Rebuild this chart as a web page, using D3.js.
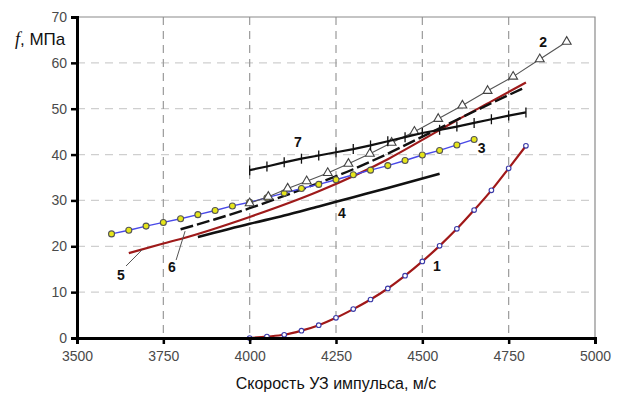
<!DOCTYPE html>
<html>
<head>
<meta charset="utf-8">
<script src="https://cdn.jsdelivr.net/npm/d3@7"></script>
<style>
  body { margin: 0; background: #fff; }
  svg { display: block; font-family: Arial, "Liberation Sans", sans-serif; }
</style>
</head>
<body>
<svg id="chart" width="621" height="400"></svg>
<script>
// Axis ticks
const xTicks = [3500, 3750, 4000, 4250, 4500, 4750, 5000];
const yTicks = [0, 10, 20, 30, 40, 50, 60, 70];

// Curve 1: red curve with small blue circles
const s1x = [4000, 4050, 4100, 4150, 4200, 4250, 4300, 4350, 4400, 4450, 4500, 4550, 4600, 4650, 4700, 4750, 4800];
const s1y = [0, 0.3, 0.7, 1.6, 2.8, 4.4, 6.3, 8.4, 10.8, 13.6, 16.7, 20.1, 23.8, 27.9, 32.2, 37.0, 41.9];

// Curve 2: thin grey line with open triangles
const s2x = [4000, 4054, 4110, 4165, 4226, 4286, 4348, 4411, 4477, 4546, 4616, 4689, 4763, 4840, 4918];
const s2y = [29.4, 30.8, 32.6, 34.2, 36.0, 38.0, 40.2, 42.6, 45.0, 47.8, 50.7, 53.9, 57.0, 60.8, 64.6];

// Curve 3: blue line with yellow circles
const s3x = [3600, 3650, 3700, 3750, 3800, 3850, 3900, 3950, 4000, 4050, 4100, 4150, 4200, 4250, 4300, 4350, 4400, 4450, 4500, 4550, 4600, 4650];
const s3y = [22.7, 23.5, 24.4, 25.2, 26.0, 26.9, 27.8, 28.8, 29.6, 30.6, 31.6, 32.6, 33.5, 34.5, 35.6, 36.6, 37.6, 38.7, 39.9, 40.9, 42.1, 43.3];

// Curve 4: black solid line
const s4x = [3850, 4000, 4100, 4200, 4300, 4400, 4550];
const s4y = [22.0, 24.9, 26.7, 28.7, 30.7, 32.7, 35.8];

// Curve 5: dark red line
const s5x = [3650, 3750, 3800, 4000, 4200, 4400, 4500, 4600, 4700, 4800];
const s5y = [18.5, 20.6, 21.6, 26.4, 32.0, 39.0, 43.2, 47.5, 51.6, 55.7];

// Curve 6: black dashed line
const s6x = [3800, 3900, 4000, 4100, 4200, 4300, 4400, 4500, 4600, 4700, 4790];
const s6y = [23.7, 25.9, 28.3, 31.0, 33.8, 36.8, 40.2, 43.9, 47.6, 51.2, 54.4];

// Curve 7: black line with cross ticks
const s7x = [4000, 4050, 4100, 4150, 4200, 4250, 4300, 4350, 4400, 4450, 4500, 4550, 4600, 4650, 4700, 4750, 4800];
const s7y = [36.6, 37.4, 38.3, 39.1, 39.8, 40.5, 41.2, 42.0, 42.9, 43.8, 44.7, 45.4, 46.1, 46.9, 47.7, 48.5, 49.2];

// Curve number labels
const labelText = ['1', '2', '3', '4', '5', '6', '7'];
const labelX = [4542, 4850, 4672, 4267, 3627, 3775, 4140];
const labelY = [15.7, 64.5, 41.4, 27.2, 13.7, 15.5, 42.8];

const svg = d3.select('#chart');
const x = d3.scaleLinear().domain([3500, 5000]).range([77, 595]);
const y = d3.scaleLinear().domain([0, 70]).range([338, 17]);
const zip = (xs, ys) => xs.map((v, i) => [v, ys[i]]);

// Grid
const grid = svg.append('g');
grid.selectAll('line.h').data(yTicks.filter(d => d > 0 && d < 70)).join('line')
  .attr('x1', x(3500)).attr('x2', x(5000))
  .attr('y1', d => y(d)).attr('y2', d => y(d))
  .attr('stroke', '#cfcfcf').attr('stroke-width', 1.2).attr('stroke-dasharray', '8,6');
grid.selectAll('line.v').data(xTicks.filter(d => d > 3500 && d < 5000)).join('line')
  .attr('x1', d => x(d)).attr('x2', d => x(d))
  .attr('y1', y(70)).attr('y2', y(0))
  .attr('stroke', '#9a9a9a').attr('stroke-width', 1.2).attr('stroke-dasharray', '8,6');

// Frame (top + right)
svg.append('path')
  .attr('d', `M${x(3500)},${y(70)}H${x(5000)}V${y(0)}`)
  .attr('fill', 'none').attr('stroke', '#8a8a8a').attr('stroke-width', 1.2);

const line = d3.line().x(d => x(d[0])).y(d => y(d[1]));
const smooth = d3.line().x(d => x(d[0])).y(d => y(d[1])).curve(d3.curveMonotoneX);

// 4
svg.append('path').attr('d', smooth(zip(s4x, s4y)))
  .attr('fill', 'none').attr('stroke', '#111').attr('stroke-width', 2.6);
// 5
svg.append('path').attr('d', smooth(zip(s5x, s5y)))
  .attr('fill', 'none').attr('stroke', '#9e1a1a').attr('stroke-width', 2.2);
// 6
svg.append('path').attr('d', smooth(zip(s6x, s6y)))
  .attr('fill', 'none').attr('stroke', '#111').attr('stroke-width', 2.4)
  .attr('stroke-dasharray', '13,4');

// 3
svg.append('path').attr('d', line(zip(s3x, s3y)))
  .attr('fill', 'none').attr('stroke', '#4848e8').attr('stroke-width', 1.4);
svg.append('g').selectAll('circle').data(zip(s3x, s3y)).join('circle')
  .attr('cx', d => x(d[0])).attr('cy', d => y(d[1])).attr('r', 3)
  .attr('fill', '#e6e61a').attr('stroke', '#555').attr('stroke-width', 1.1);

// 2
svg.append('path').attr('d', line(zip(s2x, s2y)))
  .attr('fill', 'none').attr('stroke', '#555').attr('stroke-width', 1.1);
svg.append('g').selectAll('path').data(zip(s2x, s2y)).join('path')
  .attr('transform', d => `translate(${x(d[0])},${y(d[1])})`)
  .attr('d', d3.symbol(d3.symbolTriangle, 34))
  .attr('fill', '#fff').attr('stroke', '#444').attr('stroke-width', 1.1);

// 7
svg.append('path').attr('d', line(zip(s7x, s7y)))
  .attr('fill', 'none').attr('stroke', '#111').attr('stroke-width', 2.2);
svg.append('g').selectAll('line').data(zip(s7x, s7y)).join('line')
  .attr('x1', d => x(d[0])).attr('x2', d => x(d[0]))
  .attr('y1', d => y(d[1]) - 5).attr('y2', d => y(d[1]) + 5)
  .attr('stroke', '#111').attr('stroke-width', 1.3);

// 1
svg.append('path').attr('d', smooth(zip(s1x, s1y)))
  .attr('fill', 'none').attr('stroke', '#a01818').attr('stroke-width', 2.2);
svg.append('g').selectAll('circle').data(zip(s1x, s1y)).join('circle')
  .attr('cx', d => x(d[0])).attr('cy', d => y(d[1])).attr('r', 2.3)
  .attr('fill', '#fff').attr('stroke', '#3a3aa8').attr('stroke-width', 1.1);

// Leader lines for 5 and 6
svg.append('line')
  .attr('x1', x(3642)).attr('y1', y(15.7)).attr('x2', x(3688)).attr('y2', y(19.2))
  .attr('stroke', '#555').attr('stroke-width', 1);
svg.append('line')
  .attr('x1', x(3787)).attr('y1', y(17.0)).attr('x2', x(3813)).attr('y2', y(23.3))
  .attr('stroke', '#555').attr('stroke-width', 1);

// Curve labels
svg.append('g').selectAll('text').data(labelText).join('text')
  .attr('x', (d, i) => x(labelX[i])).attr('y', (d, i) => y(labelY[i]))
  .attr('text-anchor', 'middle').attr('dominant-baseline', 'central')
  .attr('font-size', 14).attr('font-weight', 'bold').attr('fill', '#111')
  .text(d => d);

// Axes
const xAxis = svg.append('g').attr('transform', `translate(0,${y(0)})`)
  .call(d3.axisBottom(x).tickValues(xTicks).tickSize(6).tickPadding(7).tickFormat(d3.format('d')));
const yAxis = svg.append('g').attr('transform', `translate(${x(3500)},0)`)
  .call(d3.axisLeft(y).tickValues(yTicks).tickSize(6).tickPadding(4));
[xAxis, yAxis].forEach(a => {
  a.select('.domain').attr('stroke', '#000').attr('stroke-width', 3);
  a.selectAll('.tick line').attr('stroke', '#000').attr('stroke-width', 2.5);
  a.selectAll('.tick text').attr('fill', '#4a4a4a').attr('font-size', 14)
    .attr('font-family', 'Arial, "Liberation Sans", sans-serif');
});

// Titles
svg.append('text').attr('x', 336).attr('y', 389).attr('text-anchor', 'middle')
  .attr('font-size', 16).attr('fill', '#111').text('Скорость УЗ импульса, м/с');
const yt = svg.append('text').attr('x', 15).attr('y', 45).attr('fill', '#111');
yt.append('tspan').attr('font-family', '"Liberation Serif", "DejaVu Serif", serif')
  .attr('font-style', 'italic').attr('font-size', 18).text('f');
yt.append('tspan').attr('font-size', 17).text(', МПа');
</script>
</body>
</html>
